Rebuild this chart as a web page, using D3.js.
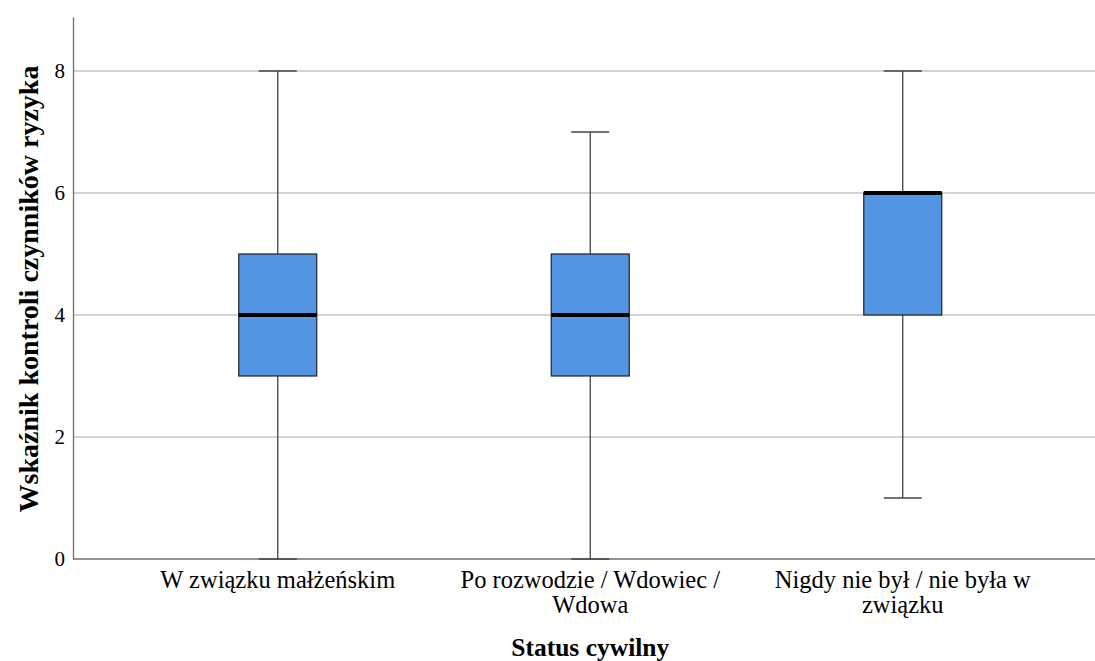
<!DOCTYPE html>
<html>
<head>
<meta charset="utf-8">
<script src="https://cdn.jsdelivr.net/npm/d3@7"></script>
<style>
body { margin: 0; background: #fff; }
</style>
</head>
<body>
<div id="chart"></div>
<script>
var categories = [["W związku małżeńskim"], ["Po rozwodzie / Wdowiec /", "Wdowa"], ["Nigdy nie był / nie była w", "związku"]];
var mins = [0, 0, 1];
var q1s = [3, 3, 4];
var medians = [4, 4, 6];
var q3s = [5, 5, 6];
var maxs = [8, 7, 8];
var yTicks = [0, 2, 4, 6, 8];

var width = 1095, height = 661;
var plotLeft = 73, plotTop = 17, plotBottom = 559;
var serif = "'Liberation Serif', 'Times New Roman', serif";

var svg = d3.select("#chart").append("svg")
    .attr("width", width)
    .attr("height", height);

var x = d3.scaleBand()
    .domain(d3.range(categories.length))
    .range([121.5, 1059])
    .padding(0);

var y = d3.scaleLinear()
    .domain([0, 8.885])
    .range([plotBottom, plotTop]);

// gridlines
svg.selectAll("line.grid")
    .data(yTicks.slice(1))
    .enter()
    .append("line")
    .attr("class", "grid")
    .attr("x1", plotLeft).attr("x2", width)
    .attr("y1", function(d) { return y(d); })
    .attr("y2", function(d) { return y(d); })
    .attr("stroke", "#c4c4c4")
    .attr("stroke-width", 1.3);

// y axis
var yAxis = svg.append("g")
    .attr("transform", "translate(" + plotLeft + ",0)")
    .call(d3.axisLeft(y).tickValues(yTicks).tickSize(0).tickPadding(8));
yAxis.select(".domain").attr("stroke", "#6e6e6e").attr("stroke-width", 1.3);
yAxis.selectAll("text")
    .style("font-family", serif)
    .style("font-size", "21px")
    .attr("fill", "#000");

// x axis line
svg.append("line")
    .attr("x1", plotLeft).attr("x2", width)
    .attr("y1", plotBottom).attr("y2", plotBottom)
    .attr("stroke", "#6e6e6e")
    .attr("stroke-width", 1.3);

var cx = function(i) { return x(i) + x.bandwidth() / 2; };
var boxW = 78, capW = 38;

var g = svg.selectAll("g.box")
    .data(categories)
    .enter()
    .append("g")
    .attr("class", "box");

// whiskers
g.append("line")
    .attr("x1", function(d, i) { return cx(i); })
    .attr("x2", function(d, i) { return cx(i); })
    .attr("y1", function(d, i) { return y(mins[i]); })
    .attr("y2", function(d, i) { return y(maxs[i]); })
    .attr("stroke", "#444").attr("stroke-width", 1.3);

g.append("line")
    .attr("x1", function(d, i) { return cx(i) - capW / 2; })
    .attr("x2", function(d, i) { return cx(i) + capW / 2; })
    .attr("y1", function(d, i) { return y(maxs[i]); })
    .attr("y2", function(d, i) { return y(maxs[i]); })
    .attr("stroke", "#444").attr("stroke-width", 1.3);

g.append("line")
    .attr("x1", function(d, i) { return cx(i) - capW / 2; })
    .attr("x2", function(d, i) { return cx(i) + capW / 2; })
    .attr("y1", function(d, i) { return y(mins[i]); })
    .attr("y2", function(d, i) { return y(mins[i]); })
    .attr("stroke", "#444").attr("stroke-width", 1.3);

// boxes
g.append("rect")
    .attr("x", function(d, i) { return cx(i) - boxW / 2; })
    .attr("y", function(d, i) { return y(q3s[i]); })
    .attr("width", boxW)
    .attr("height", function(d, i) { return y(q1s[i]) - y(q3s[i]); })
    .attr("fill", "#5394e3")
    .attr("stroke", "#222")
    .attr("stroke-width", 1.2);

// medians
g.append("line")
    .attr("x1", function(d, i) { return cx(i) - boxW / 2; })
    .attr("x2", function(d, i) { return cx(i) + boxW / 2; })
    .attr("y1", function(d, i) { return y(medians[i]); })
    .attr("y2", function(d, i) { return y(medians[i]); })
    .attr("stroke", "#000").attr("stroke-width", 4);

// category labels
g.append("text")
    .attr("text-anchor", "middle")
    .style("font-family", serif)
    .style("font-size", "24.5px")
    .attr("fill", "#000")
    .attr("x", function(d, i) { return cx(i); })
    .attr("y", 588)
    .selectAll("tspan")
    .data(function(d) { return d; })
    .enter()
    .append("tspan")
    .attr("x", function() { return this.parentNode.getAttribute("x"); })
    .attr("dy", function(d, j) { return j === 0 ? 0 : 25; })
    .text(function(d) { return d; });

// axis titles
svg.append("text")
    .attr("text-anchor", "middle")
    .style("font-family", serif)
    .style("font-size", "25.5px")
    .style("font-weight", "bold")
    .attr("x", cx(1))
    .attr("y", 656)
    .text("Status cywilny");

svg.append("text")
    .attr("text-anchor", "middle")
    .style("font-family", serif)
    .style("font-size", "28px")
    .style("font-weight", "bold")
    .attr("transform", "translate(38," + 289 + ") rotate(-90)")
    .text("Wskaźnik kontroli czynników ryzyka");
</script>
</body>
</html>
